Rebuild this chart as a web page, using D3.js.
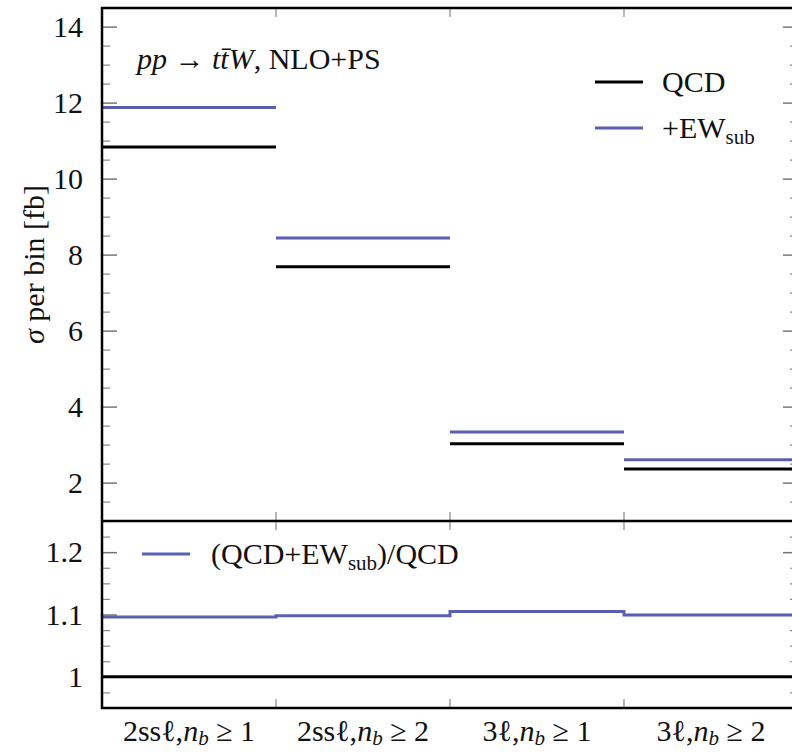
<!DOCTYPE html>
<html>
<head>
<meta charset="utf-8">
<title>ttW cross section per bin</title>
<style>
  body { margin: 0; background: #fff; }
  svg text { font-family: "Liberation Serif", "Times New Roman", serif; fill: #111; }
</style>
</head>
<body>
<script src="https://d3js.org/d3.v7.min.js"></script>
<script>
// data
var categories = ["2ssl_nb1", "2ssl_nb2", "3l_nb1", "3l_nb2"];
var catLabels = [["2ssℓ,", "n", "b", " ≥ 1"], ["2ssℓ,", "n", "b", " ≥ 2"],
                 ["3ℓ,", "n", "b", " ≥ 1"], ["3ℓ,", "n", "b", " ≥ 2"]];
var qcd   = [10.83, 7.68, 3.02, 2.36];
var ewsub = [11.87, 8.44, 3.33, 2.60];
var ratio = [1.096, 1.098, 1.105, 1.099];
var topTicks = [2, 4, 6, 8, 10, 12, 14];
var botTicks = [1, 1.1, 1.2];

var width = 792, height = 754;
var blue = "#5b5fae";
var left = 102, right = 798;
var topY = 8, midY = 521, botY = 708;
var fs = 30, fsSub = 21;

var svg = d3.select("body").append("svg")
    .attr("width", width)
    .attr("height", height)
    .attr("font-family", "Liberation Serif");

var x = d3.scaleBand().domain(categories).range([left, right]).padding(0);
var yTop = d3.scaleLinear().domain([0.99, 14.49]).range([midY, topY]);
var yBot = d3.scaleLinear().domain([0.95, 1.25]).range([botY, midY]);

function minors(lo, hi, step) {
    var out = [];
    for (var v = lo; v <= hi + 1e-9; v += step) out.push(+v.toFixed(4));
    return out;
}

function yAxes(scale, majors, minorVals, fmt) {
    var g = svg.append("g").attr("transform", "translate(" + left + ",0)")
        .call(d3.axisLeft(scale).tickValues(majors).tickSize(-15).tickPadding(19).tickFormat(fmt));
    g.attr("font-family", null).attr("font-size", null);
    g.select(".domain").remove();
    g.selectAll("line").attr("stroke", "#777").attr("stroke-width", 1.5);
    g.selectAll("text").attr("font-size", fs).attr("fill", "#111");
    var gm = svg.append("g").attr("transform", "translate(" + left + ",0)")
        .call(d3.axisLeft(scale).tickValues(minorVals).tickSize(-8).tickFormat(""));
    gm.select(".domain").remove();
    gm.selectAll("line").attr("stroke", "#888").attr("stroke-width", 1.2);
    // right side, ticks inward
    var gr = svg.append("g").attr("transform", "translate(" + right + ",0)")
        .call(d3.axisRight(scale).tickValues(majors).tickSize(-15).tickFormat(""));
    gr.select(".domain").remove();
    gr.selectAll("line").attr("stroke", "#777").attr("stroke-width", 1.5);
    var grm = svg.append("g").attr("transform", "translate(" + right + ",0)")
        .call(d3.axisRight(scale).tickValues(minorVals).tickSize(-8).tickFormat(""));
    grm.select(".domain").remove();
    grm.selectAll("line").attr("stroke", "#888").attr("stroke-width", 1.2);
}

yAxes(yTop, topTicks, minors(1.5, 14, 0.5).filter(function(v){ return v % 2 !== 0; }), d3.format("d"));
yAxes(yBot, botTicks, minors(0.975, 1.25, 0.025).filter(function(v){
    return botTicks.indexOf(+v.toFixed(3)) < 0; }), function(d){ return d === 1 ? "1" : d3.format(".1f")(d); });

// x ticks at bin edges
var edges = categories.slice(1).map(function(c){ return x(c); });
[[topY, 9], [midY, -9], [midY, 9], [botY, -9]].forEach(function(p) {
    svg.append("g").selectAll("line").data(edges).enter().append("line")
        .attr("x1", function(d){ return d; }).attr("x2", function(d){ return d; })
        .attr("y1", p[0]).attr("y2", p[0] + p[1])
        .attr("stroke", "#888").attr("stroke-width", 1.2);
});

// x labels
var xl = svg.append("g").selectAll("text").data(categories).enter().append("text")
    .attr("x", function(d){ return x(d) + x.bandwidth() / 2; })
    .attr("y", 741)
    .attr("text-anchor", "middle")
    .attr("font-size", fs);
xl.each(function(d, i) {
    var t = d3.select(this), parts = catLabels[i];
    t.append("tspan").text(parts[0]);
    t.append("tspan").attr("font-style", "italic").text(parts[1]);
    t.append("tspan").attr("font-style", "italic").attr("font-size", fsSub).attr("dy", 4).text(parts[2]);
    t.append("tspan").attr("dy", -4).text(parts[3]);
});

// top panel step lines
function steps(vals, scale, color) {
    svg.append("g").selectAll("line").data(categories).enter().append("line")
        .attr("x1", function(d){ return x(d); })
        .attr("x2", function(d){ return x(d) + x.bandwidth(); })
        .attr("y1", function(d, i){ return scale(vals[i]); })
        .attr("y2", function(d, i){ return scale(vals[i]); })
        .attr("stroke", color).attr("stroke-width", 3);
}
steps(qcd, yTop, "#000");
steps(ewsub, yTop, blue);

// ratio panel
svg.append("line")
    .attr("x1", left).attr("x2", right)
    .attr("y1", yBot(1)).attr("y2", yBot(1))
    .attr("stroke", "#000").attr("stroke-width", 3);
var ratioPts = ratio.map(function(v, i){ return [x(categories[i]), yBot(v)]; });
ratioPts.push([right, yBot(ratio[ratio.length - 1])]);
svg.append("path")
    .attr("fill", "none").attr("stroke", blue).attr("stroke-width", 3)
    .attr("d", d3.line().curve(d3.curveStepAfter)(ratioPts));

// frame
svg.append("path")
    .attr("d", "M" + right + "," + topY + "H" + left + "V" + botY + "H" + right)
    .attr("fill", "none").attr("stroke", "#000").attr("stroke-width", 2.5);
svg.append("line").attr("x1", left).attr("x2", right).attr("y1", midY).attr("y2", midY)
    .attr("stroke", "#000").attr("stroke-width", 2.5);

// y label
svg.append("text")
    .attr("transform", "translate(44," + (topY + midY) / 2 + ") rotate(-90)")
    .attr("text-anchor", "middle")
    .attr("font-size", fs)
    .call(function(t) {
        t.append("tspan").attr("font-style", "italic").text("σ");
        t.append("tspan").text(" per bin [fb]");
    });

// process label
svg.append("text").attr("x", 137).attr("y", 69).attr("font-size", fs)
    .call(function(t) {
        t.append("tspan").attr("font-style", "italic").text("pp");
        t.append("tspan").text(" → ");
        t.append("tspan").attr("font-style", "italic").text("tt̄W");
        t.append("tspan").text(", NLO+PS");
    });

// legend top
var legend = [["QCD", "#000", 82], ["+EW", blue, 128]];
legend.forEach(function(l) {
    svg.append("line").attr("x1", 595).attr("x2", 643).attr("y1", l[2]).attr("y2", l[2])
        .attr("stroke", l[1]).attr("stroke-width", 3);
    var t = svg.append("text").attr("x", 662).attr("y", l[2] + 10).attr("font-size", fs).text(l[0]);
    if (l[0] === "+EW") t.append("tspan").attr("font-size", fsSub).attr("dy", 6).text("sub");
});

// legend ratio
svg.append("line").attr("x1", 142).attr("x2", 190).attr("y1", 554).attr("y2", 554)
    .attr("stroke", blue).attr("stroke-width", 3);
svg.append("text").attr("x", 211).attr("y", 564).attr("font-size", fs)
    .call(function(t) {
        t.append("tspan").text("(QCD+EW");
        t.append("tspan").attr("font-size", fsSub).attr("dy", 6).text("sub");
        t.append("tspan").attr("dy", -6).text(")/QCD");
    });
</script>
</body>
</html>
